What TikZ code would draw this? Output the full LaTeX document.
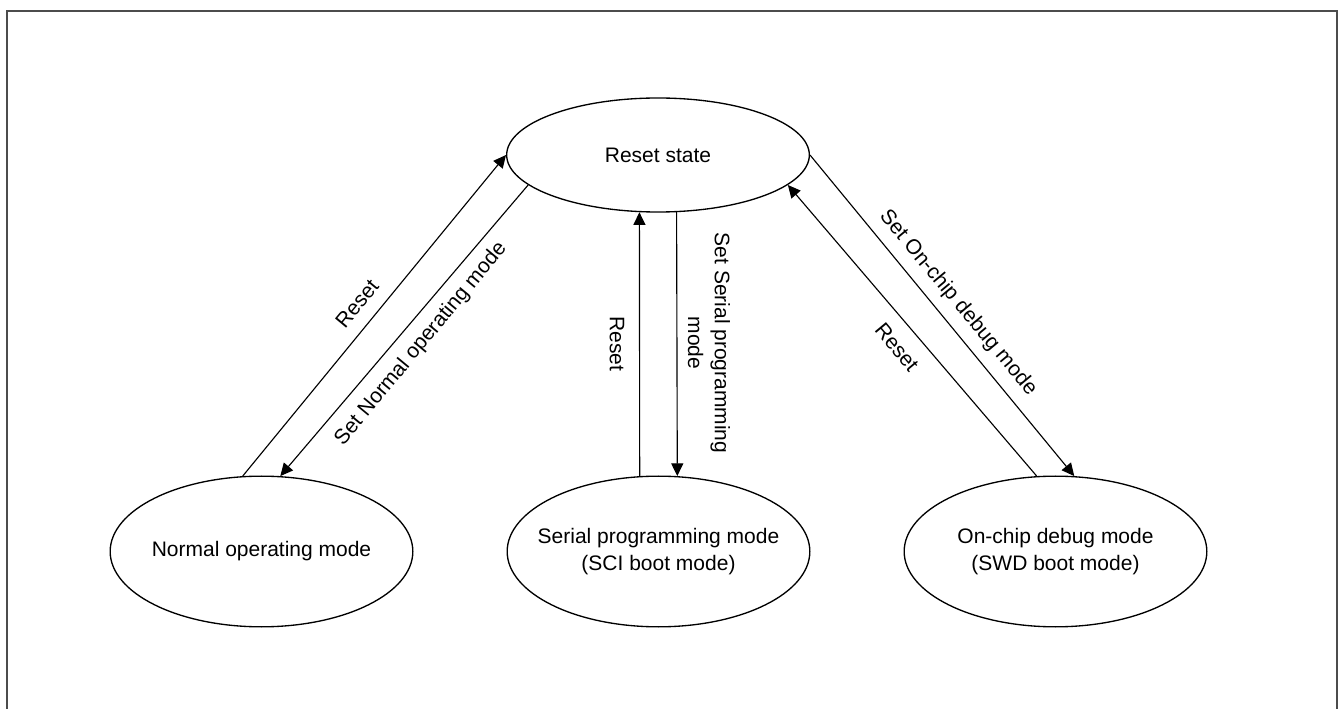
\documentclass[tikz,border=0pt]{standalone}
\usepackage{fontspec}
\setmainfont{Liberation Sans}
\usetikzlibrary{shapes.geometric,arrows.meta}
\begin{document}
\begin{tikzpicture}[x=0.75pt,y=-0.75pt,
  state/.style={draw,ellipse,line width=1pt,minimum width=227pt,inner xsep=-40pt,inner ysep=0pt,align=center,font=\fontsize{15.75}{20}\selectfont},
  trans/.style={-{Triangle[length=9.5pt,width=9pt]},line width=0.85pt},
  lbl/.style={inner sep=0pt,align=center,font=\fontsize{15.75}{20}\selectfont}]
\useasboundingbox (0,0) rectangle (1340,709);
\draw[line width=1.1pt,black!70] (7,709) -- (7,11) -- (1337,11) -- (1337,709);
% states
\node[state,minimum height=85.5pt] (reset) at (658,155) {Reset state};
\node[state,minimum height=113pt] (normal) at (261.5,551.5) {Normal operating mode};
\node[state,minimum height=113pt] (serial) at (658.5,551.5) {Serial programming mode\\(SCI boot mode)};
\node[state,minimum height=113pt] (onchip) at (1055.5,551.5) {On-chip debug mode\\(SWD boot mode)};
% transitions
\draw[trans] (normal.104) -- (reset.west);
\draw[trans] (reset.193) -- (normal.76);
\draw[trans] (serial.104) -- (reset.252);
\draw[trans] (reset.288) -- (serial.76);
\draw[trans] (onchip.104) -- (reset.347);
\draw[trans] (reset.east) -- (onchip.76);
% labels
\node[lbl,rotate=50.4] (rstn) at (357,304) {Reset};
\node[lbl,rotate=50.4] (setn) at (421,344) {Set Normal operating mode};
\node[lbl,rotate=-90] (rsts) at (617,344) {Reset};
\node[lbl,rotate=-90] (sets) at (709,343) {Set Serial programming\\mode};
\node[lbl,rotate=-50.2] (rsto) at (897,347) {Reset};
\node[lbl,rotate=-50.2] (seto) at (958,303) {Set On-chip debug mode};
\end{tikzpicture}
\end{document}
